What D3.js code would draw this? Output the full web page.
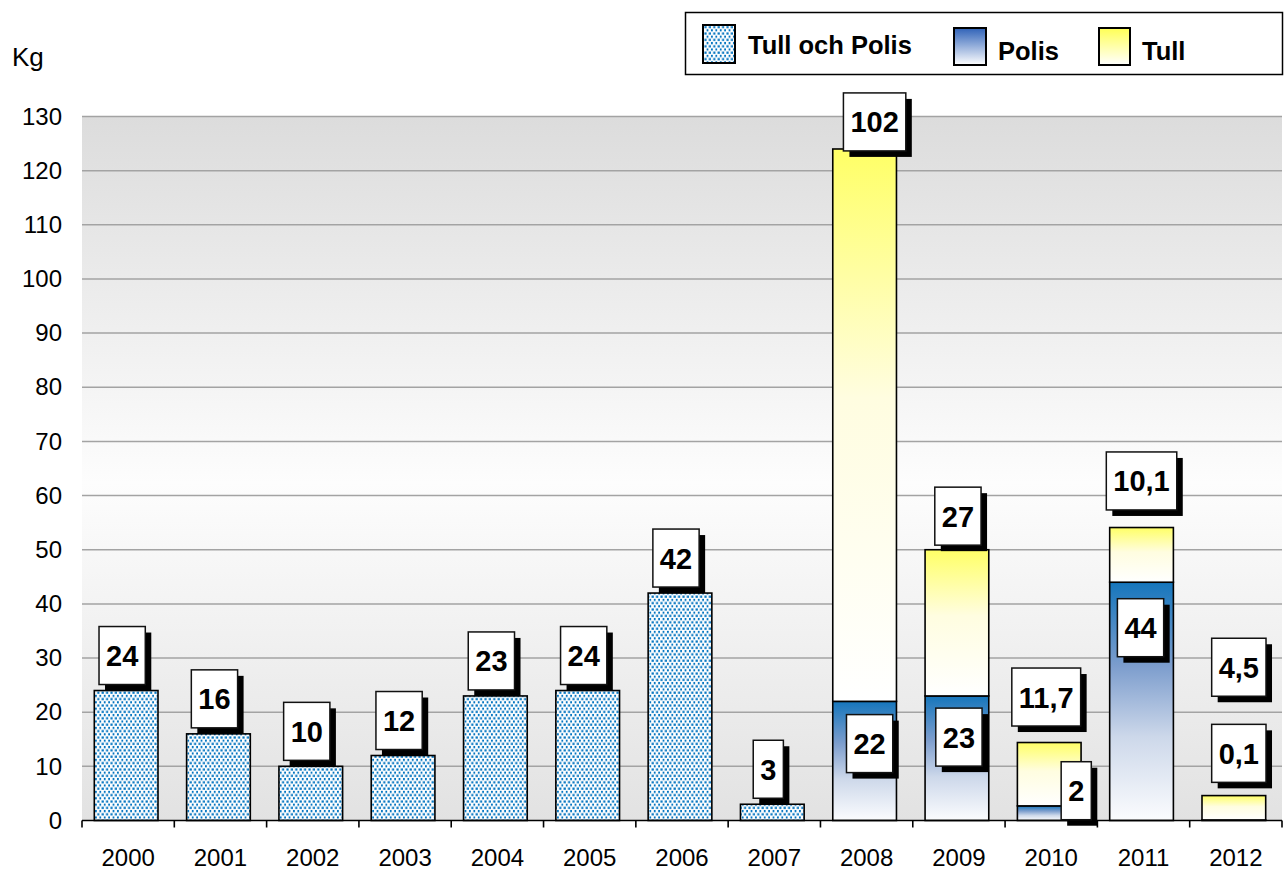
<!DOCTYPE html>
<html>
<head>
<meta charset="utf-8">
<script src="https://cdn.jsdelivr.net/npm/d3@7"></script>
<style>
  body { margin: 0; background: #fff; }
  svg { display: block; font-family: Arial, "Liberation Sans", sans-serif; }
</style>
</head>
<body>
<svg id="chart" width="1285" height="870"></svg>
<script>
// --- data ---
var years = ["2000", "2001", "2002", "2003", "2004", "2005", "2006", "2007", "2008", "2009", "2010", "2011", "2012"];
var tullOchPolisYears = ["2000", "2001", "2002", "2003", "2004", "2005", "2006", "2007"];
var tullOchPolis = [24, 16, 10, 12, 23, 24, 42, 3];
var splitYears = ["2008", "2009", "2010", "2011", "2012"];
var polis = [22, 23, 2.7, 44, 0.1];
var tull = [102, 27, 11.7, 10.1, 4.5];
var polisLabels = ["22", "23", "2", "44", "0,1"];
var tullLabels = ["102", "27", "11,7", "10,1", "4,5"];
var yTicks = [0, 10, 20, 30, 40, 50, 60, 70, 80, 90, 100, 110, 120, 130];

// where Excel dropped the labels (kg, and px sideways) - they were moved by hand
var polisLabelAt = [14.2, 15.4, 5.5, 35.6, 12.4];
var polisLabelDx = [5, 2, 27, -1, 5];
var tullLabelAt = [129, 56.2, 22.8, 62.7, 28.3];
var tullLabelDx = [10, 1, -3, 0, 5];

var svg = d3.select("#chart");
var plotLeft = 82, plotRight = 1282, plotTop = 116.5, plotBottom = 820.5;

var x = d3.scaleBand().domain(years).range([plotLeft, plotRight])
    .paddingInner(0.31).paddingOuter(0.155);
var y = d3.scaleLinear().domain([0, 130]).range([plotBottom, plotTop]);
var barShift = -2;

var defs = svg.append("defs");

var bg = defs.append("linearGradient").attr("id", "bgGrad")
    .attr("x1", 0).attr("y1", 0).attr("x2", 0).attr("y2", 1);
bg.append("stop").attr("offset", "0%").attr("stop-color", "#dcdcdc");
bg.append("stop").attr("offset", "52%").attr("stop-color", "#fdfdfd");
bg.append("stop").attr("offset", "100%").attr("stop-color", "#e2e2e2");

function vGrad(id, stops) {
  var g = defs.append("linearGradient").attr("id", id)
      .attr("x1", 0).attr("y1", 0).attr("x2", 0).attr("y2", 1);
  stops.forEach(function(s) {
    g.append("stop").attr("offset", s[0]).attr("stop-color", s[1]);
  });
}
vGrad("polisGrad", [["0%", "#1676bc"], ["35%", "#7c9dcd"], ["65%", "#cdd8ea"], ["100%", "#fbfcfe"]]);
vGrad("tullGrad", [["0%", "#ffff66"], ["45%", "#fffde0"], ["100%", "#ffffff"]]);
vGrad("polisLegGrad", [["0%", "#2f62b8"], ["100%", "#ffffff"]]);
vGrad("tullLegGrad", [["0%", "#ffff55"], ["100%", "#ffffff"]]);

var pat = defs.append("pattern").attr("id", "dots")
    .attr("patternUnits", "userSpaceOnUse").attr("width", 4.4).attr("height", 6.4);
pat.append("rect").attr("width", 4.4).attr("height", 6.4).attr("fill", "#fff");
pat.append("rect").attr("x", 0.4).attr("y", 0.4).attr("width", 2.2).attr("height", 2.2).attr("fill", "#0274c0");
pat.append("rect").attr("x", 2.6).attr("y", 3.6).attr("width", 2.2).attr("height", 2.2).attr("fill", "#0274c0");

// plot background + gridlines
svg.append("rect")
    .attr("x", plotLeft).attr("y", plotTop)
    .attr("width", plotRight - plotLeft).attr("height", plotBottom - plotTop)
    .attr("fill", "url(#bgGrad)");

svg.append("g").selectAll("line")
    .data(yTicks.filter(function(t) { return t > 0; }))
    .enter().append("line")
    .attr("x1", plotLeft).attr("x2", plotRight)
    .attr("y1", function(d) { return y(d); })
    .attr("y2", function(d) { return y(d); })
    .attr("stroke", "#a3a3a3").attr("stroke-width", 1.5);

// y axis labels (no axis line)
var yAxis = svg.append("g").attr("transform", "translate(" + plotLeft + ",0)")
    .call(d3.axisLeft(y).tickValues(yTicks).tickSize(0).tickPadding(20));
yAxis.select(".domain").remove();
yAxis.selectAll("text").attr("font-size", 24).attr("fill", "#000")
    .attr("font-family", "Arial, 'Liberation Sans', sans-serif");

svg.append("text").attr("x", 12).attr("y", 66)
    .attr("font-size", 26).attr("fill", "#000").text("Kg");

// bars
var bw = x.bandwidth();
svg.append("g").selectAll("rect")
    .data(tullOchPolisYears)
    .enter().append("rect")
    .attr("x", function(d) { return x(d) + barShift; })
    .attr("y", function(d, i) { return y(tullOchPolis[i]); })
    .attr("width", bw)
    .attr("height", function(d, i) { return y(0) - y(tullOchPolis[i]); })
    .attr("fill", "url(#dots)")
    .attr("stroke", "#000").attr("stroke-width", 1.6);

var rows = splitYears.map(function(yr, i) { return { year: yr, polis: polis[i], tull: tull[i] }; });
var stacked = d3.stack().keys(["polis", "tull"])(rows);
var fills = { polis: "url(#polisGrad)", tull: "url(#tullGrad)" };

svg.append("g").selectAll("g")
    .data(stacked)
    .enter().append("g")
    .selectAll("rect")
    .data(function(s) { return s.map(function(p) { p.key = s.key; return p; }); })
    .enter().append("rect")
    .attr("x", function(d) { return x(d.data.year) + barShift; })
    .attr("y", function(d) { return y(d[1]); })
    .attr("width", bw)
    .attr("height", function(d) { return y(d[0]) - y(d[1]); })
    .attr("fill", function(d) { return fills[d.key]; })
    .attr("stroke", "#000").attr("stroke-width", 1.6);

// x axis line + boundary ticks
var step = x.step();
svg.append("line")
    .attr("x1", plotLeft).attr("x2", plotRight)
    .attr("y1", plotBottom).attr("y2", plotBottom)
    .attr("stroke", "#000").attr("stroke-width", 1.6);
var bounds = years.map(function(d) { return x(d) - step * x.paddingInner() / 2; });
bounds.push(plotRight);
svg.append("g").selectAll("line")
    .data(bounds)
    .enter().append("line")
    .attr("x1", function(d) { return d; }).attr("x2", function(d) { return d; })
    .attr("y1", plotBottom).attr("y2", plotBottom + 7)
    .attr("stroke", "#000").attr("stroke-width", 1.6);

var xAxis = svg.append("g").attr("transform", "translate(0," + plotBottom + ")")
    .call(d3.axisBottom(x).tickSize(0).tickPadding(28));
xAxis.select(".domain").remove();
xAxis.selectAll("text").attr("font-size", 24).attr("fill", "#000")
    .attr("font-family", "Arial, 'Liberation Sans', sans-serif");

// data label boxes with hard shadow
var labelLayer = svg.append("g");
function labelBox(cx, cy, txt) {
  var g = labelLayer.append("g");
  var t = g.append("text")
      .attr("x", cx).attr("y", cy + 10.5)
      .attr("text-anchor", "middle")
      .attr("font-size", 29).attr("font-weight", "bold").attr("fill", "#000")
      .text(txt);
  var w = t.node().getComputedTextLength() + 14, h = 58;
  g.insert("rect", "text")
      .attr("x", cx - w / 2 + 6).attr("y", cy - h / 2 + 6)
      .attr("width", w).attr("height", h).attr("fill", "#000");
  g.insert("rect", "text")
      .attr("x", cx - w / 2).attr("y", cy - h / 2)
      .attr("width", w).attr("height", h)
      .attr("fill", "#fff").attr("stroke", "#111").attr("stroke-width", 1.5);
}

tullOchPolisYears.forEach(function(yr, i) {
  labelBox(x(yr) + barShift + bw / 2 - 4, y(tullOchPolis[i]) - 35, String(tullOchPolis[i]));
});
splitYears.forEach(function(yr, i) {
  var c = x(yr) + barShift + bw / 2;
  labelBox(c + polisLabelDx[i], y(polisLabelAt[i]), polisLabels[i]);
  labelBox(c + tullLabelDx[i], y(tullLabelAt[i]), tullLabels[i]);
});

// legend
var leg = svg.append("g");
leg.append("rect").attr("x", 685.5).attr("y", 12.5).attr("width", 597).attr("height", 62)
    .attr("fill", "#fff").attr("stroke", "#000").attr("stroke-width", 1.5);
var legItems = [
  { name: "Tull och Polis", fill: "url(#dots)", sx: 703, sy: 25, sw: 32, sh: 38, tx: 748, ty: 54 },
  { name: "Polis", fill: "url(#polisLegGrad)", sx: 954, sy: 28, sw: 32, sh: 37, tx: 998, ty: 60 },
  { name: "Tull", fill: "url(#tullLegGrad)", sx: 1099, sy: 28, sw: 31, sh: 37, tx: 1142, ty: 60 }
];
legItems.forEach(function(it) {
  leg.append("rect").attr("x", it.sx).attr("y", it.sy)
      .attr("width", it.sw).attr("height", it.sh)
      .attr("fill", it.fill).attr("stroke", "#000").attr("stroke-width", 2);
  leg.append("text").attr("x", it.tx).attr("y", it.ty)
      .attr("font-size", 25.5).attr("font-weight", "bold").attr("fill", "#000")
      .text(it.name);
});
</script>
</body>
</html>
